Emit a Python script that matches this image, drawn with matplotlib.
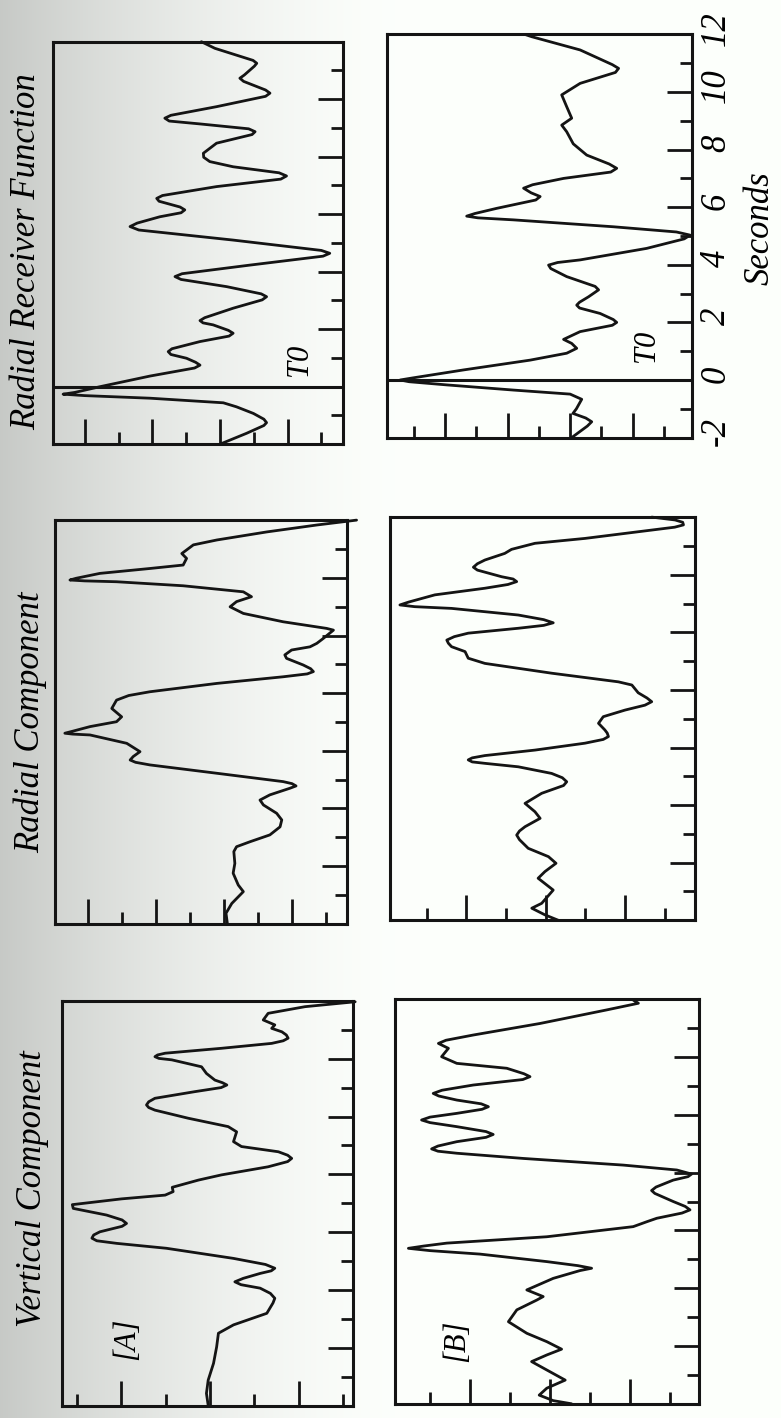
import numpy as np
import matplotlib
matplotlib.use("Agg")
import matplotlib.pyplot as plt
from matplotlib.ticker import MultipleLocator
from matplotlib.transforms import ScaledTranslation

plt.rcParams['font.family'] = ['Liberation Serif', 'DejaVu Serif']
plt.rcParams['axes.unicode_minus'] = False

# ---------------------------------------------------------------------------
# Traces as (time in s, amplitude in tick units); positive amplitude is drawn
# toward the left edge of each panel.
# ---------------------------------------------------------------------------
rf_a = [(-2.0, 0.0), (-1.62, -0.79), (-1.35, -1.30), (-1.25, -1.38), (-1.13, -1.30),
        (-0.93, -0.99), (-0.70, -0.49), (-0.56, -0.10), (-0.40, 2.07), (-0.31, 4.00),
        (-0.26, 4.64), (-0.20, 4.30), (0.0, 3.55), (0.37, 2.07), (0.65, 0.75),
        (0.75, 0.59), (0.85, 0.72), (0.99, 0.99), (1.12, 1.45), (1.22, 1.53),
        (1.32, 1.42), (1.57, 0.59), (1.76, -0.27), (1.86, -0.39), (1.96, -0.25),
        (2.15, 0.20), (2.22, 0.50), (2.30, 0.59), (2.40, 0.45), (2.73, -0.39),
        (3.02, -1.25), (3.13, -1.38), (3.23, -1.22), (3.48, -0.20), (3.73, 1.15),
        (3.83, 1.33), (3.93, 1.12), (4.23, -0.89), (4.54, -3.05), (4.64, -3.25),
        (4.74, -3.00), (5.10, -0.39), (5.45, 2.40), (5.57, 2.66), (5.69, 2.45),
        (5.91, 1.78), (6.05, 1.15), (6.15, 1.04), (6.25, 1.18), (6.45, 1.80),
        (6.55, 1.87), (6.65, 1.70), (6.96, 0.10), (7.22, -1.80), (7.33, -1.97),
        (7.44, -1.75), (7.65, -0.39), (7.83, 0.30), (7.98, 0.48), (8.12, 0.49),
        (8.47, 0.10), (8.77, -0.95), (8.87, -1.04), (8.97, -0.85), (9.14, 0.59),
        (9.24, 1.50), (9.34, 1.63), (9.44, 1.45), (9.74, 0.10), (10.10, -1.35),
        (10.21, -1.48), (10.32, -1.35), (10.62, -0.70), (10.73, -0.59), (10.84, -0.72),
        (11.15, -1.02), (11.25, -1.09), (11.35, -0.98), (11.77, 0.15), (12.0, 0.55)]

rf_b = [(-2.0, -0.05), (-1.60, -0.55), (-1.45, -0.69), (-1.32, -0.50), (-1.16, -0.09),
        (-1.00, -0.20), (-0.67, -0.37), (-0.49, 0.0), (-0.35, 1.81), (-0.17, 3.95),
        (-0.06, 5.15), (0.0, 5.44), (0.07, 5.05), (0.35, 3.41), (0.69, 1.28),
        (0.93, 0.11), (1.10, -0.21), (1.27, -0.05), (1.41, 0.21), (1.68, -0.32),
        (1.90, -1.35), (2.00, -1.49), (2.10, -1.38), (2.31, -0.96), (2.50, -0.30),
        (2.60, -0.21), (2.70, -0.30), (2.89, -0.59), (3.13, -0.91), (3.25, -0.80),
        (3.59, 0.11), (3.87, 0.62), (3.99, 0.69), (4.08, 0.40), (4.17, -0.32),
        (4.57, -2.45), (4.90, -3.65), (5.03, -3.84), (5.14, -3.40), (5.32, -1.39),
        (5.56, 1.81), (5.63, 2.95), (5.69, 3.31), (5.78, 3.05), (5.96, 2.35),
        (6.25, 1.10), (6.37, 0.96), (6.50, 1.25), (6.66, 1.49), (6.78, 1.20),
        (7.00, 0.21), (7.22, -1.30), (7.35, -1.49), (7.50, -1.25), (7.81, -0.53),
        (8.20, -0.10), (8.62, 0.11), (8.85, 0.27), (9.09, -0.05), (9.49, 0.11),
        (9.90, 0.27), (10.30, -0.32), (10.68, -1.45), (10.82, -1.55), (10.95, -1.35),
        (11.46, -0.32), (11.92, 1.23), (12.0, 1.45)]

radial_a = [(-2.0, -0.10), (-1.64, -0.06), (-1.30, -0.23), (-0.89, -0.57), (-0.66, -0.42),
            (-0.25, -0.27), (0.09, -0.32), (0.50, -0.29), (0.67, -0.37), (0.84, -0.76),
            (1.08, -1.35), (1.36, -1.65), (1.60, -1.70), (1.83, -1.55), (2.12, -1.16),
            (2.29, -1.06), (2.47, -1.35), (2.70, -1.94), (2.78, -2.12), (2.86, -2.00),
            (2.93, -1.74), (3.22, 0.21), (3.51, 2.18), (3.60, 2.60), (3.68, 2.76),
            (3.80, 2.67), (3.97, 2.47), (4.26, 2.86), (4.55, 3.94), (4.58, 4.45),
            (4.61, 4.68), (4.68, 4.45), (4.84, 3.94), (5.01, 3.16), (5.18, 3.01),
            (5.47, 3.30), (5.76, 3.16), (5.92, 2.80), (6.05, 2.18), (6.34, 0.21),
            (6.57, -1.74), (6.67, -2.45), (6.75, -2.63), (6.85, -2.55), (6.98, -2.33),
            (7.21, -1.84), (7.33, -1.79), (7.50, -1.99), (7.61, -2.53), (7.73, -2.73),
            (7.90, -2.92), (8.19, -3.22), (8.25, -3.02), (8.48, -1.74), (8.77, -0.57),
            (9.00, -0.18), (9.18, -0.37), (9.35, -0.81), (9.52, -0.57), (9.73, 1.20),
            (9.87, 3.16), (9.90, 4.10), (9.93, 4.53), (9.99, 4.35), (10.16, 3.65),
            (10.33, 2.18), (10.45, 1.20), (10.68, 1.10), (10.85, 1.24), (11.15, 0.90),
            (11.32, 0.21), (11.60, -1.26), (11.84, -2.73), (12.01, -3.90)]

radial_b = [(-2.0, -0.32), (-1.81, 0.02), (-1.58, 0.35), (-1.41, 0.10), (-0.95, -0.19),
            (-0.54, 0.19), (-0.31, 0.02), (-0.02, -0.26), (0.21, -0.07), (0.50, 0.44),
            (0.80, 0.66), (0.96, 0.73), (1.10, 0.66), (1.25, 0.52), (1.54, 0.14),
            (1.77, 0.27), (2.06, 0.52), (2.41, 0.10), (2.68, -0.45), (2.81, -0.53),
            (2.95, -0.42), (3.10, -0.15), (3.33, 0.69), (3.45, 1.53), (3.50, 1.85),
            (3.57, 1.95), (3.64, 1.85), (3.72, 1.53), (3.91, 0.27), (4.15, -0.99),
            (4.28, -1.45), (4.38, -1.58), (4.50, -1.55), (4.61, -1.49), (4.84, -1.33),
            (5.07, -1.45), (5.30, -2.00), (5.47, -2.50), (5.59, -2.67), (5.72, -2.55),
            (5.90, -2.33), (6.17, -2.17), (6.28, -1.83), (6.58, -0.15), (6.92, 1.53),
            (7.10, 1.95), (7.33, 2.03), (7.50, 2.37), (7.62, 2.45), (7.73, 2.49),
            (7.85, 2.30), (7.97, 1.95), (8.14, 0.69), (8.24, 0.05), (8.33, -0.19),
            (8.44, 0.05), (8.60, 0.69), (8.83, 2.37), (8.89, 3.30), (8.95, 3.67),
            (9.05, 3.45), (9.30, 2.79), (9.53, 1.53), (9.66, 0.95), (9.76, 0.73),
            (9.85, 0.82), (9.93, 1.11), (10.16, 1.72), (10.26, 1.82), (10.38, 1.72),
            (10.51, 1.53), (10.74, 1.03), (10.88, 0.86), (11.09, 0.27), (11.26, -0.99),
            (11.55, -2.67), (11.65, -3.25), (11.73, -3.47), (11.82, -3.45), (11.90, -3.26),
            (12.0, -2.67)]

vertical_a = [(-2.0, 0.04), (-1.58, 0.08), (-1.12, 0.04), (-0.54, -0.08), (0.03, -0.15),
              (0.50, -0.19), (0.79, -0.53), (1.19, -1.28), (1.55, -1.42), (1.71, -1.46),
              (1.88, -1.36), (2.06, -1.13), (2.18, -0.70), (2.28, -0.56), (2.40, -0.75),
              (2.57, -1.13), (2.66, -1.38), (2.75, -1.46), (2.88, -1.25), (3.09, -0.53),
              (3.44, 0.98), (3.61, 2.10), (3.70, 2.55), (3.79, 2.66), (3.90, 2.62),
              (4.01, 2.48), (4.20, 1.98), (4.30, 1.88), (4.42, 1.98), (4.59, 2.33),
              (4.82, 3.08), (4.95, 3.10), (5.15, 1.99), (5.28, 1.01), (5.40, 0.83),
              (5.55, 0.85), (5.80, 0.26), (5.98, -0.26), (6.26, -1.31), (6.44, -1.75),
              (6.55, -1.84), (6.66, -1.75), (6.78, -1.54), (6.96, -0.71), (7.13, -0.53),
              (7.47, -0.60), (7.65, -0.41), (7.94, 0.49), (8.22, 1.24), (8.31, 1.38),
              (8.40, 1.43), (8.51, 1.38), (8.63, 1.24), (8.86, 0.34), (9.00, -0.25),
              (9.09, -0.38), (9.17, -0.28), (9.26, -0.11), (9.49, 0.08), (9.72, 0.19),
              (9.96, 0.86), (10.01, 1.15), (10.07, 1.24), (10.13, 1.18), (10.19, 1.01),
              (10.36, -0.26), (10.53, -1.39), (10.62, -1.65), (10.71, -1.76), (10.82, -1.72),
              (10.93, -1.62), (11.05, -1.39), (11.17, -1.46), (11.34, -1.20), (11.57, -1.31),
              (11.80, -2.14), (11.97, -3.27)]

vertical_b = [(-2.0, -0.54), (-1.89, -0.08), (-1.70, 0.27), (-1.46, 0.08), (-1.18, -0.38),
              (-0.83, 0.08), (-0.54, 0.46), (-0.31, 0.08), (-0.11, -0.29), (0.15, 0.08),
              (0.44, 0.58), (0.84, 1.04), (1.25, 0.83), (1.59, 0.33), (1.71, 0.17),
              (1.94, 0.58), (2.34, -0.08), (2.61, -0.75), (2.69, -1.04), (2.78, -0.70),
              (2.92, 0.08), (3.18, 1.75), (3.30, 3.00), (3.38, 3.54), (3.46, 3.15),
              (3.56, 2.58), (3.78, 0.08), (4.13, -2.08), (4.30, -2.42), (4.42, -2.67),
              (4.60, -3.30), (4.71, -3.50), (4.83, -3.38), (5.00, -3.08), (5.28, -2.62),
              (5.38, -2.54), (5.50, -2.65), (5.74, -3.08), (5.86, -3.45), (5.95, -3.54),
              (6.09, -3.17), (6.26, -1.83), (6.49, 0.67), (6.67, 2.33), (6.74, 2.80),
              (6.82, 2.96), (6.92, 2.80), (7.07, 2.33), (7.22, 1.60), (7.32, 1.42),
              (7.42, 1.60), (7.59, 2.33), (7.73, 3.00), (7.82, 3.21), (7.92, 3.00),
              (8.05, 2.33), (8.19, 1.70), (8.28, 1.54), (8.38, 1.72), (8.51, 2.33),
              (8.65, 2.78), (8.74, 2.92), (8.85, 2.70), (9.03, 1.92), (9.22, 0.68),
              (9.32, 0.50), (9.42, 0.65), (9.61, 1.08), (9.78, 2.33), (10.01, 2.71),
              (10.30, 2.54), (10.47, 2.79), (10.58, 2.60), (10.76, 1.92), (11.16, 0.25),
              (11.63, -1.42), (11.86, -2.21), (11.97, -2.08)]

time_ticks = [-2, 0, 2, 4, 6, 8, 10, 12]
column_titles = ["Vertical Component", "Radial Component", "Radial Receiver Function"]
row_labels = ["[A]", "[B]"]

# ---------------------------------------------------------------------------
W, H = 781, 1418
fig = plt.figure(figsize=(W / 100, H / 100), dpi=100)

# paper shading, darker toward the binding on the left
bg = fig.add_axes([0, 0, 1, 1], zorder=-10)
bg.set_axis_off()
xx = np.arange(W)
shade = 1 - 0.21 * np.clip(1 - xx / 420.0, 0, None) ** 1.7
img = np.ones((2, W, 3))
img[:, :, 0] = shade - 0.01
img[:, :, 1] = shade
img[:, :, 2] = shade - 0.012
bg.imshow(np.clip(img, 0, 1), aspect='auto', extent=[0, 1, 0, 1])
bg.set_xlim(0, 1)
bg.set_ylim(0, 1)

FRAME_LW = 2.2
TRACE_LW = 2.0
INK = '#141414'


def make_panel(left, right, top, bottom, amp_left, amp_right):
    ax = fig.add_axes([left / W, 1 - bottom / H, (right - left) / W, (bottom - top) / H])
    ax.set_facecolor('none')
    ax.set_ylim(-2, 12)
    ax.set_xlim(amp_left, amp_right)
    for s in ax.spines.values():
        s.set_linewidth(FRAME_LW)
        s.set_color(INK)
    ax.xaxis.set_major_locator(MultipleLocator(2))
    ax.xaxis.set_minor_locator(MultipleLocator(1))
    ax.yaxis.set_major_locator(MultipleLocator(2))
    ax.yaxis.set_minor_locator(MultipleLocator(1))
    ax.tick_params(axis='x', which='both', direction='in', bottom=True, top=False,
                   labelbottom=False, width=2.0, color=INK)
    ax.tick_params(axis='y', which='both', direction='in', left=False, right=True,
                   labelleft=False, labelright=False, width=2.0, color=INK)
    ax.tick_params(which='major', length=18)
    ax.tick_params(which='minor', length=9)
    return ax


def draw_trace(ax, trace):
    t, amp = zip(*trace)
    ax.plot(amp, t, color=INK, lw=TRACE_LW, solid_joinstyle='round',
            solid_capstyle='round', clip_on=False)


ax_va = make_panel(61.7, 352.5, 1000.9, 1405.5, 3.34, -3.21)
ax_vb = make_panel(395, 699, 999.2, 1403.8, 3.875, -3.725)
ax_ra = make_panel(55, 346.7, 520.4, 923.6, 4.97, -3.61)
ax_rb = make_panel(390, 695, 517.1, 920.3, 3.92, -3.76)
ax_fa = make_panel(53.3, 343.3, 41.7, 444.2, 4.93, -3.65)
ax_fb = make_panel(386.7, 691.7, 34.4, 437.6, 5.87, -3.89)

draw_trace(ax_va, vertical_a)
draw_trace(ax_vb, vertical_b)
draw_trace(ax_ra, radial_a)
draw_trace(ax_rb, radial_b)
draw_trace(ax_fa, rf_a)
draw_trace(ax_fb, rf_b)

# T0 reference line and label on the receiver functions
for ax in (ax_fa, ax_fb):
    ax.axhline(0, color=INK, lw=FRAME_LW)
ax_fa.text(-2.35, 0.95, "T0", rotation=90, fontsize=22, style='italic',
           ha='center', va='center')
ax_fb.text(-2.45, 1.2, "T0", rotation=90, fontsize=22, style='italic',
           ha='center', va='center')

# time labels along the outer edge
ax_fb.set_yticks(time_ticks)
ax_fb.tick_params(axis='y', which='major', labelright=True, labelrotation=90,
                  pad=6, labelsize=25)
lift = ScaledTranslation(0, 6 / 100, fig.dpi_scale_trans)
for lab in ax_fb.get_yticklabels():
    lab.set_fontstyle('italic')
    lab.set_va('center')
    lab.set_transform(lab.get_transform() + lift)

title_style = dict(rotation=90, fontsize=25, style='italic', ha='center', va='center')
fig.text(33 / W, 1 - 1189 / H, column_titles[0], **title_style)
fig.text(30 / W, 1 - 722 / H, column_titles[1], **title_style)
fig.text(27 / W, 1 - 252 / H, column_titles[2], **title_style)
fig.text(760 / W, 1 - 228 / H, "Seconds", **title_style)

fig.text(127 / W, 1 - 1339 / H, row_labels[0], rotation=90, fontsize=22,
         style='italic', ha='center', va='center')
fig.text(457 / W, 1 - 1341 / H, row_labels[1], rotation=90, fontsize=22,
         style='italic', ha='center', va='center')

fig.savefig("out.png", dpi=100)
